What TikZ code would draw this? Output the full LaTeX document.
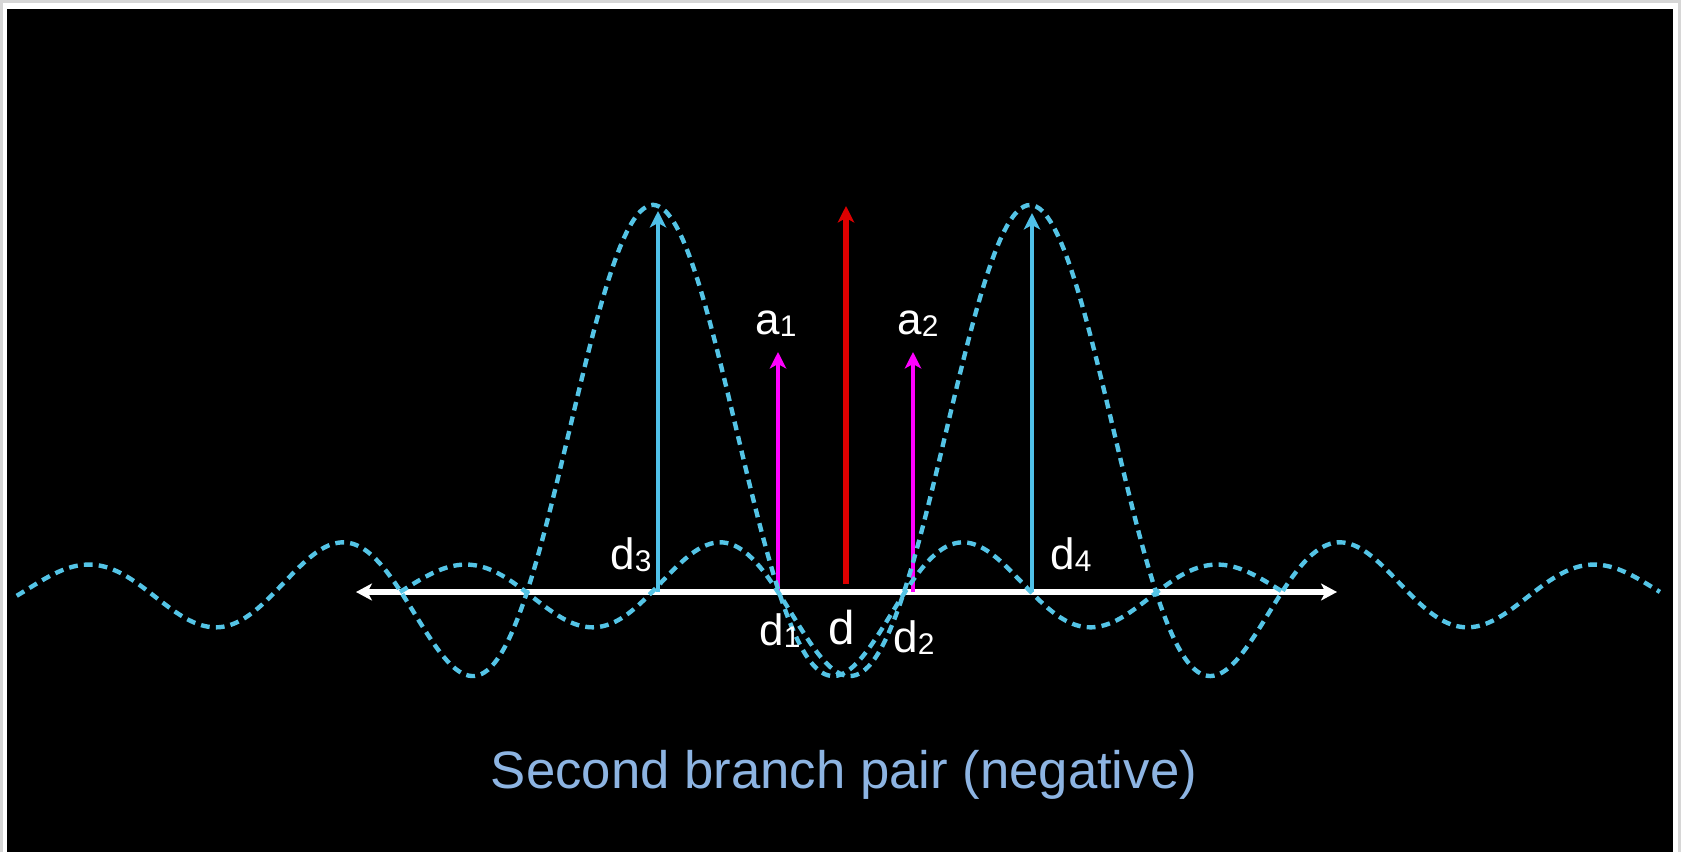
\documentclass[tikz,border=0pt]{standalone}
\usepackage{fontspec}
\setmainfont{Liberation Sans}
\usepackage{tikz}
\usetikzlibrary{arrows.meta}
\definecolor{wavecyan}{RGB}{84,196,230}
\definecolor{peakcyan}{RGB}{79,193,233}
\definecolor{centrered}{RGB}{222,0,0}
\definecolor{ampmagenta}{RGB}{255,0,255}
\definecolor{captionblue}{RGB}{141,180,226}
\definecolor{framegray}{RGB}{214,214,214}

\newcommand{\labidx}[1]{\raisebox{-0.05em}{\fontsize{17}{17}\selectfont #1}}

\begin{document}
\begin{tikzpicture}[x=0.02cm, y=-0.02cm,
  wave/.style={wavecyan, line width=2.5pt, dash pattern=on 5pt off 3.5pt},
  spike/.style={line width=2.5pt, -{Stealth[length=0.33cm, width=0.33cm, inset=0.09cm]}},
  lab/.style={text=white, inner sep=0pt, anchor=base, font=\fontsize{25}{25}\selectfont}]
  \useasboundingbox (0,0) rectangle (1681,852);
  \fill[framegray] (0,0) rectangle (1681,852);
  \fill[white] (3,3) rectangle (1678,852);
  \fill[black] (7,9) rectangle (1673,852);

  \coordinate (axl) at (356,592);
  \coordinate (axr) at (1337,592);
  \coordinate (dthree) at (658,592);
  \coordinate (dthreetop) at (658,211);
  \coordinate (done) at (778,592);
  \coordinate (donetop) at (778,352);
  \coordinate (dmid) at (846,584);
  \coordinate (dmidtop) at (846,206);
  \coordinate (dtwo) at (913,592);
  \coordinate (dtwotop) at (913,352);
  \coordinate (dfour) at (1032,592);
  \coordinate (dfourtop) at (1032,213);

  \draw[white, line width=2.9pt,
        {Stealth[length=0.32cm, width=0.34cm, inset=0.09cm]}-{Stealth[length=0.32cm, width=0.34cm, inset=0.09cm]}]
    (axl) -- (axr);

  \draw[spike, peakcyan] (dthree) -- (dthreetop);
  \draw[spike, peakcyan] (dfour) -- (dfourtop);
  \draw[spike, ampmagenta] (done) -- (donetop);
  \draw[spike, ampmagenta] (dtwo) -- (dtwotop);
  \draw[spike, centrered, line width=2.9pt] (dmid) -- (dmidtop);

  \draw[wave] plot[domain=-5.05:5, samples=200, smooth]
    ({653+126*\x}, {592-387*sin(180*\x)/(pi*\x)});
  \draw[wave] plot[domain=-5:5, samples=200, smooth]
    ({1030+126*\x}, {592-387*sin(180*\x)/(pi*\x)});

  \node[lab] (lab-a1) at (776,334) {a\labidx{1}};
  \node[lab] (lab-a2) at (918,334) {a\labidx{2}};
  \node[lab] (lab-d3) at (631,569) {d\labidx{3}};
  \node[lab] (lab-d4) at (1071,569) {d\labidx{4}};
  \node[lab] (lab-d1) at (780,645) {d\labidx{1}};
  \node[lab, font=\fontsize{27}{27}\selectfont] (lab-d) at (842,644) {d};
  \node[lab] (lab-d2) at (914,652) {d\labidx{2}};

  \node[anchor=base, inner sep=0pt, text=captionblue, font=\fontsize{30}{30}\selectfont]
    (caption) at (844,788) {Second branch pair (negative)};
\end{tikzpicture}
\end{document}
